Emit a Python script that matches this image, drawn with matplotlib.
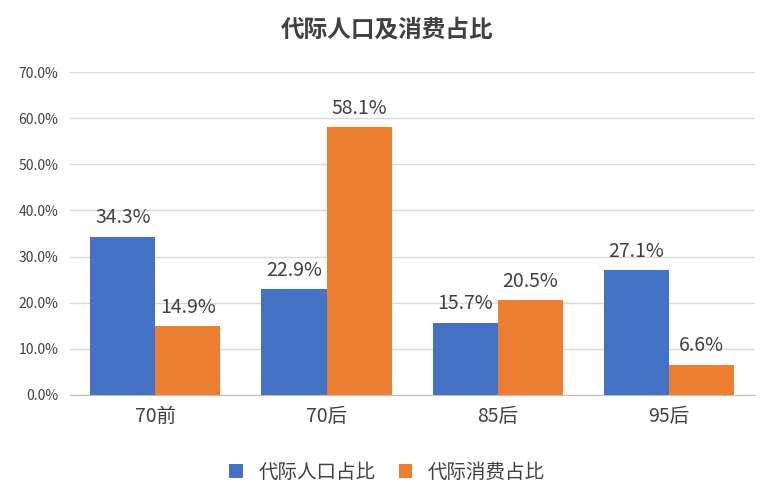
import matplotlib.pyplot as plt
from matplotlib import font_manager
import numpy as np

cjk = [f.name for f in font_manager.fontManager.ttflist if 'CJK' in f.name]
plt.rcParams['font.family'] = 'sans-serif'
plt.rcParams['font.sans-serif'] = sorted(set(cjk)) + ['Noto Sans CJK SC', 'DejaVu Sans']

categories = ['70前', '70后', '85后', '95后']
population = [34.3, 22.9, 15.7, 27.1]
consumption = [14.9, 58.1, 20.5, 6.6]
series_names = ['代际人口占比', '代际消费占比']
colors = ['#4472C4', '#ED7D31']

fig = plt.figure(figsize=(7.74, 5), dpi=100)
ax = fig.add_axes([0.09, 0.21, 0.885, 0.646])

x = np.arange(len(categories))
w = 0.38
b1 = ax.bar(x - w / 2, population, w, color=colors[0], label=series_names[0], zorder=3)
b2 = ax.bar(x + w / 2, consumption, w, color=colors[1], label=series_names[1], zorder=3)
for bars in (b1, b2):
    for r in bars:
        ax.text(r.get_x() + r.get_width() / 2, r.get_height() + 1.8, '%.1f%%' % r.get_height(),
                ha='center', va='bottom', fontsize=14, color='#404040')

ax.set_xlim(-0.5, 3.5)
ax.set_ylim(0, 70)
ax.set_yticks(np.arange(0, 71, 10))
ax.set_yticklabels(['%.1f%%' % v for v in np.arange(0, 71, 10)], fontsize=10, color='#404040')
ax.set_xticks(x)
ax.set_xticklabels(categories, fontsize=14, color='#404040')
ax.tick_params(length=0, pad=8)
ax.yaxis.grid(True, color='#D9D9D9', linewidth=1, zorder=0)
for s in ['top', 'right', 'left']:
    ax.spines[s].set_visible(False)
ax.spines['bottom'].set_color('#BFBFBF')

fig.suptitle('代际人口及消费占比', y=0.965, fontsize=17, fontweight='bold', color='#404040')
fig.legend(loc='lower center', ncol=2, frameon=False, fontsize=14, bbox_to_anchor=(0.5, 0.0),
           handlelength=0.7, handleheight=0.7, columnspacing=1.2, labelcolor='#404040')

fig.savefig('out.png', dpi=100)
